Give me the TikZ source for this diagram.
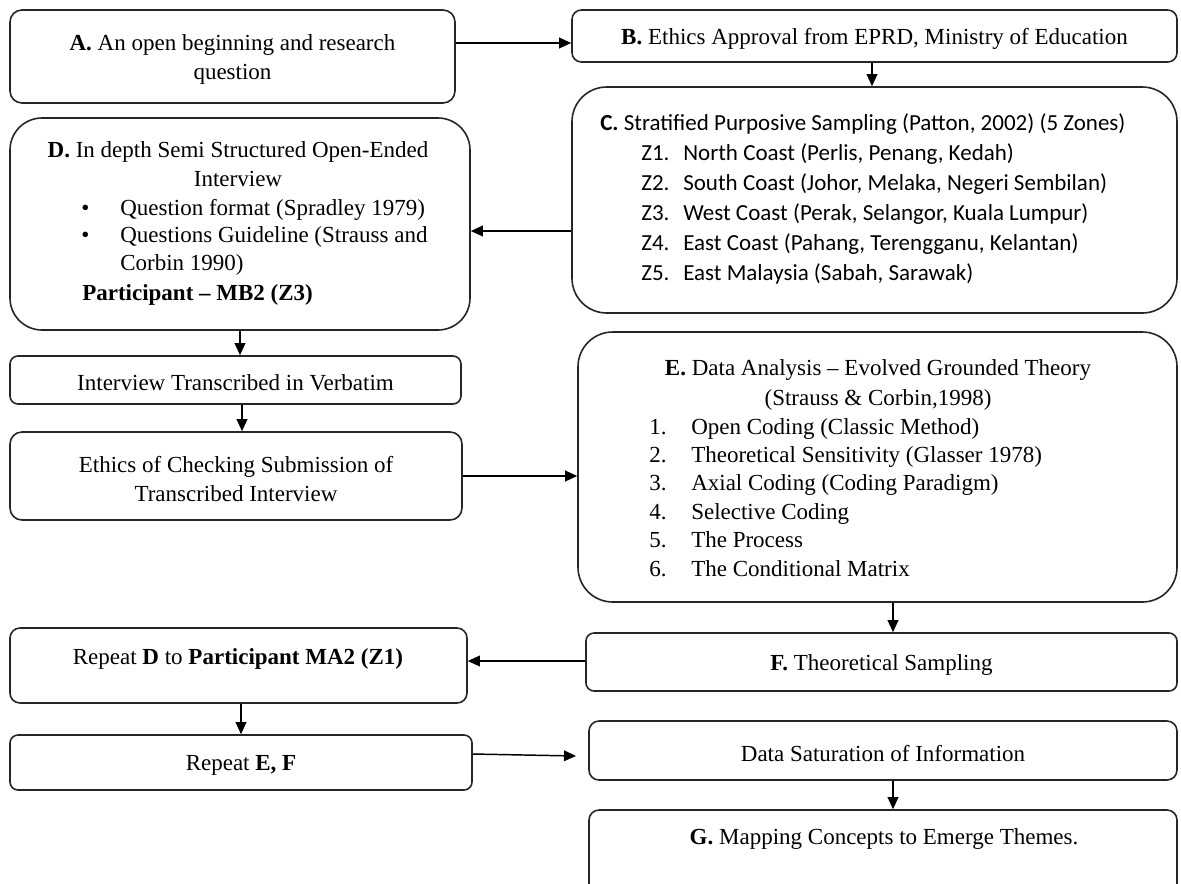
\documentclass[tikz,border=0pt]{standalone}
\usepackage{fontspec}
\setmainfont{Liberation Serif}
\newfontfamily\calibri{Carlito}
\usetikzlibrary{arrows.meta,fit}
\begin{document}
\begin{tikzpicture}[x=0.75pt,y=-0.75pt,
  box/.style={draw=black!85, line width=1.2pt, rounded corners=#1, inner sep=0pt},
  box/.default=6pt,
  arr/.style={draw=black, line width=1.1pt, -{Triangle[length=9pt,width=8pt]}},
  txt/.style={inner sep=0pt, align=center, yshift=-2.25pt, font=\fontsize{17.25}{21.75}\selectfont},
  lt/.style={inner sep=0pt, anchor=base west, font=\fontsize{17.25}{21.75}\selectfont},
  ct/.style={inner sep=0pt, anchor=base, font=\fontsize{17.25}{21.75}\selectfont}]
\useasboundingbox (0,0) rectangle (1181,883);
\clip (0,0) rectangle (1181,883);

% boxes
\node[box=9pt,  fit={(10,10)(455,103)}]   (A) {};
\node[box=7pt,  fit={(572,10)(1177,62)}]  (B) {};
\node[box=26pt, fit={(572,87)(1177,313)}] (C) {};
\node[box=24pt, fit={(10,118)(470,330)}]  (D) {};
\node[box=6pt,  fit={(10,356)(461,404)}]  (I) {};
\node[box=9pt,  fit={(10,432)(462,520)}]  (K) {};
\node[box=26pt, fit={(578,332)(1177,602)}] (E) {};
\node[box=6pt,  fit={(586,633)(1177,691)}] (F) {};
\node[box=7.5pt,fit={(10,628)(467,703)}]  (RD) {};
\node[box=6pt,  fit={(10,735)(472,790)}]  (RE) {};
\node[box=7.5pt,fit={(589,721)(1177,780)}] (DS) {};
\node[box=7.5pt,fit={(589,810)(1177,910)}] (G) {};

% texts
\node[txt] (At) at (A.center) {\textbf{A.} An open beginning and research\\question};
\node[txt] (Bt) at (B.center) {\textbf{B.} Ethics Approval from EPRD, Ministry of Education};

\node[lt, font=\calibri\fontsize{17.25}{21.75}\selectfont] (C0) at (600,130) {\textbf{C.} Stratified Purposive Sampling (Patton, 2002) (5 Zones)};
\foreach \k/\z/\t in {0/Z1./{North Coast (Perlis, Penang, Kedah)},
                      1/Z2./{South Coast (Johor, Melaka, Negeri Sembilan)},
                      2/Z3./{West Coast (Perak, Selangor, Kuala Lumpur)},
                      3/Z4./{East Coast (Pahang, Terengganu, Kelantan)},
                      4/Z5./{East Malaysia (Sabah, Sarawak)}}{
  \node[lt, font=\calibri\fontsize{17.25}{21.75}\selectfont] (Cz\k) at (641,160+30*\k) {\z};
  \node[lt, font=\calibri\fontsize{17.25}{21.75}\selectfont] (Ct\k) at (683,160+30*\k) {\t};
}

\node[ct] (D0) at (238,157) {\textbf{D.} In depth Semi Structured Open-Ended};
\node[ct] (D1) at (238,186) {Interview};
\node[lt] (Db1) at (81,215) {\textbullet};
\node[lt] (D2) at (120,215) {Question format (Spradley 1979)};
\node[lt] (Db2) at (81,242) {\textbullet};
\node[lt] (D3) at (120,242) {Questions Guideline (Strauss and};
\node[lt] (D4) at (120,270) {Corbin 1990)};
\node[lt] (D5) at (82,300) {\textbf{Participant – MB2 (Z3)}};

\node[txt] (It) at (I.center) {Interview Transcribed in Verbatim};
\node[txt] (Kt) at (K.center) {Ethics of Checking Submission of\\Transcribed Interview};

\node[ct] (E0) at (878,375) {\textbf{E.} Data Analysis – Evolved Grounded Theory};
\node[ct] (E1) at (878,405) {(Strauss \& Corbin,1998)};
\foreach \k/\t in {1/{Open Coding (Classic Method)},
                   2/{Theoretical Sensitivity (Glasser 1978)},
                   3/{Axial Coding (Coding Paradigm)},
                   4/{Selective Coding},
                   5/{The Process},
                   6/{The Conditional Matrix}}{
  \node[lt] (En\k) at (649,405.6+28.4*\k) {\k.};
  \node[lt] (Et\k) at (691,405.6+28.4*\k) {\t};
}

\node[txt] (Ft) at (F.center) {\textbf{F.} Theoretical Sampling};
\node[ct] (RDt) at (238,664) {Repeat \textbf{D} to \textbf{Participant MA2 (Z1)}};
\node[txt] (REt) at (RE.center) {Repeat \textbf{E, F}};
\node[txt] (DSt) at (DS.center) {Data Saturation of Information};
\node[ct] (Gt) at (884,844) {\textbf{G.} Mapping Concepts to Emerge Themes.};

% connectors
\coordinate (dsin) at (576,756);
\draw[arr] (A.east |- 0,43) -- (B.west |- 0,43);
\draw[arr] (B.south -| 872,0) -- (C.north -| 872,0);
\draw[arr] (C.west |- 0,231) -- (D.east |- 0,231);
\draw[arr] (D.south -| 240,0) -- (I.north -| 240,0);
\draw[arr] (I.south -| 242,0) -- (K.north -| 242,0);
\draw[arr] (K.east |- 0,476) -- (E.west |- 0,476);
\draw[arr] (E.south -| 893,0) -- (F.north -| 893,0);
\draw[arr] (F.west |- 0,661) -- (RD.east |- 0,661);
\draw[arr] (RD.south -| 241,0) -- (RE.north -| 241,0);
\draw[arr] (RE.east |- 0,754) -- (dsin);
\draw[arr] (DS.south -| 893,0) -- (G.north -| 893,0);
\end{tikzpicture}
\end{document}
